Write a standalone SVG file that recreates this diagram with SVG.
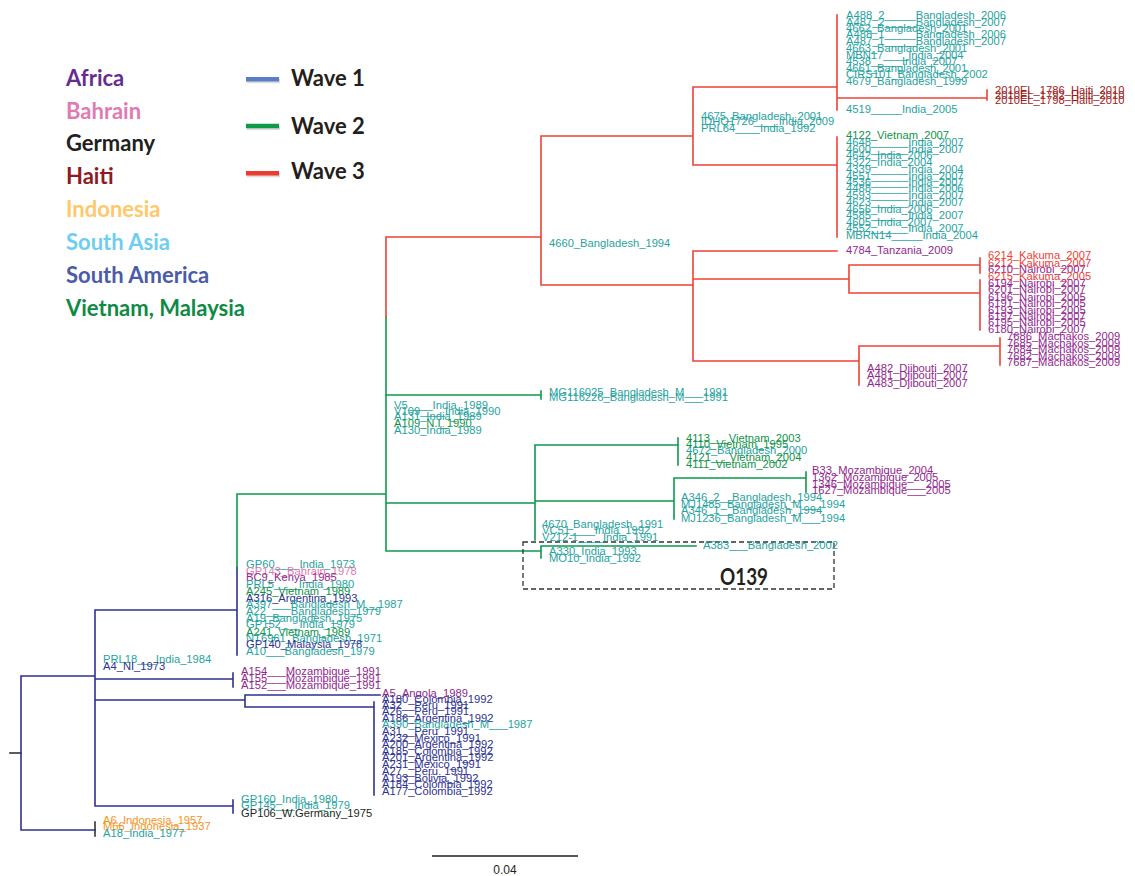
<svg xmlns="http://www.w3.org/2000/svg" width="1135" height="876" viewBox="0 0 1135 876">
<style>
.t{font-family:"Liberation Sans",Arial,Helvetica,sans-serif;font-size:11.2px}
.tl{fill:#1fa3a0}.pu{fill:#92278f}.nv{fill:#2e3192}.gr{fill:#0f9447}.pk{fill:#e07ab0}.ht{fill:#9e1b20}.rd{fill:#ef4136}.or{fill:#f7941d}.bk{fill:#231f20}
.lg{font-family:Lato,"Open Sans",sans-serif;font-weight:bold;font-size:22px}
.e{fill:none;stroke-width:1.6;stroke-linecap:square}
.b{stroke:#2e3192}.g{stroke:#0b9a4d}.r{stroke:#ef4136}.k{stroke:#333}
</style>
<rect width="1135" height="876" fill="#fff"/>
<g id="legend">
<text class="lg" x="66" y="85.7" fill="#662d91">Africa</text>
<text class="lg" x="66" y="118.6" fill="#e27ab2">Bahrain</text>
<text class="lg" x="66" y="151.4" fill="#231f20">Germany</text>
<text class="lg" x="66" y="184.3" fill="#8e1b1e">Haiti</text>
<text class="lg" x="66" y="217.2" fill="#fdc96b">Indonesia</text>
<text class="lg" x="66" y="250.1" fill="#6fcdf1">South Asia</text>
<text class="lg" x="66" y="283" fill="#4a5ca8">South America</text>
<text class="lg" x="66" y="315.9" fill="#0f8a45">Vietnam, Malaysia</text>
<g stroke-width="4.5">
<line x1="247" y1="81" x2="280" y2="81" stroke="#bbb" opacity="0.5"/>
<line x1="247" y1="127.7" x2="280" y2="127.7" stroke="#bbb" opacity="0.5"/>
<line x1="247" y1="175" x2="280" y2="175" stroke="#bbb" opacity="0.5"/>
<line x1="246" y1="79.3" x2="279" y2="79.3" stroke="#5a7dc5"/>
<line x1="246" y1="126" x2="279" y2="126" stroke="#0e9a48"/>
<line x1="246" y1="173.3" x2="279" y2="173.3" stroke="#ee3b2f"/>
</g>
<text class="lg" x="291" y="85.7" fill="#231f20">Wave 1</text>
<text class="lg" x="291" y="134" fill="#231f20">Wave 2</text>
<text class="lg" x="291" y="179" fill="#231f20">Wave 3</text>
</g>
<g id="connectors" class="e">
<path class="k" d="M10,753H21"/>
<path class="b" d="M21,676V830M21,676H95M21,830H95M95,610V806M95,610H237M237,567V655M95,679H233M233,673V687M95,700H245M245,695V707M245,695H380M245,707H374M374,702V795M95,806H233M233,800V813"/>
<path class="k" d="M95,822V836"/>
<path class="g" d="M237,494V567M237,494H386M386,317V551M386,395H541M541,391V399M386,503H535M535,445V540M535,445H678M678,438V465M535,501H674M674,478V519M674,478H806M806,472V492M386,551H541M541,546V558M541,546H696"/>
<path class="r" d="M386,237V317M386,237H541M541,136V285M541,136H693M693,87V165M693,87H837M837,15V110M837,98H987M987,90V100M693,165H837M837,137V237M541,285H693M693,251V361M693,251H837M693,279H849M849,265V293M849,265H980M980,258V273M849,293H980M980,280V330M693,361H859M859,346V385M859,346H1000M1000,338V365"/>
</g>
<g id="o139">
<rect x="523" y="542" width="311" height="47" fill="none" stroke="#333" stroke-width="1.3" stroke-dasharray="5,3"/>
<text x="720" y="585" font-family="Lato,'Open Sans',sans-serif" font-weight="bold" font-size="23" fill="#231f20" textLength="48" lengthAdjust="spacingAndGlyphs">O139</text>
</g>
<g id="clade-bangladesh-top" class="t tl">
<text x="846" y="19">A488_2_____Bangladesh_2006</text>
<text x="846" y="26">A487_2_____Bangladesh_2007</text>
<text x="846" y="32">4662_Bangladesh_2001</text>
<text x="846" y="38">A488_1_____Bangladesh_2006</text>
<text x="846" y="45">A487_1_____Bangladesh_2007</text>
<text x="846" y="51.7">4663_Bangladesh_2001</text>
<text x="846" y="59">MBN17____India_2004</text>
<text x="846" y="65">4538_____India_2007</text>
<text x="846" y="71.7">4661_Bangladesh_2001</text>
<text x="846" y="78.3">CIRS101_Bangladesh_2002</text>
<text x="846" y="85">4679_Bangladesh_1999</text>
<text x="846" y="113.3">4519_____India_2005</text>
</g>
<g id="clade-haiti" class="t ht">
<text x="995" y="94">2010EL_1786_Haiti_2010</text>
<text x="995" y="98.5">2010EL_1792_Haiti_2010</text>
<text x="995" y="103.5">2010EL_1798_Haiti_2010</text>
</g>
<g id="node-4675" class="t tl">
<text x="701" y="119.5">4675_Bangladesh_2001</text>
<text x="701" y="125">IDHQ1726____India_2009</text>
<text x="701" y="131.5">PRL64____India_1992</text>
</g>
<g id="clade-india" class="t tl">
<text class="t gr" x="846" y="139">4122_Vietnam_2007</text>
<text x="846" y="145.7">4648______India_2007</text>
<text x="846" y="152.5">4600______India_2007</text>
<text x="846" y="159">4642_India_2006</text>
<text x="846" y="165.7">4322_India_2004</text>
<text x="846" y="172.7">4339______India_2004</text>
<text x="846" y="179.5">4551______India_2007</text>
<text x="846" y="185.7">4536______India_2007</text>
<text x="846" y="192.3">4488______India_2006</text>
<text x="846" y="199.3">4593______India_2007</text>
<text x="846" y="206">4623______India_2007</text>
<text x="846" y="212.7">4656_India_2006</text>
<text x="846" y="219.3">4585______India_2007</text>
<text x="846" y="226">4605_India_2007</text>
<text x="846" y="232">4552______India_2007</text>
<text x="846" y="239.3">MBRN14_____India_2004</text>
</g>
<g id="node-4660" class="t tl"><text x="549" y="246.7">4660_Bangladesh_1994</text></g>
<g id="leaf-tanzania" class="t pu"><text x="846" y="254">4784_Tanzania_2009</text></g>
<g id="clade-kakuma" class="t pu">
<text class="t rd" x="988" y="259.3">6214_Kakuma_2007</text>
<text class="t rd" x="988" y="266.7">6212_Kakuma_2007</text>
<text x="988" y="273.3">6210_Nairobi_2007</text>
<text class="t rd" x="988" y="280">6215_Kakuma_2005</text>
</g>
<g id="clade-nairobi" class="t pu">
<text x="988" y="286.5">6194_Nairobi_2007</text>
<text x="988" y="293.3">6201_Nairobi_2007</text>
<text x="988" y="300.5">6196_Nairobi_2005</text>
<text x="988" y="306.7">6191_Nairobi_2005</text>
<text x="988" y="313.7">6193_Nairobi_2005</text>
<text x="988" y="320">6197_Nairobi_2007</text>
<text x="988" y="326">6195_Nairobi_2005</text>
<text x="988" y="332.7">6180_Nairobi_2007</text>
</g>
<g id="clade-machakos" class="t pu">
<text x="1007" y="340">7686_Machakos_2009</text>
<text x="1007" y="346.7">7685_Machakos_2009</text>
<text x="1007" y="353">7684_Machakos_2009</text>
<text x="1007" y="359.5">7682_Machakos_2009</text>
<text x="1007" y="366">7687_Machakos_2009</text>
</g>
<g id="node-djibouti" class="t pu">
<text x="867" y="371.7">A482_Djibouti_2007</text>
<text x="867" y="379.3">A481_Djibouti_2007</text>
<text x="867" y="386.7">A483_Djibouti_2007</text>
</g>
<g id="clade-mg" class="t tl">
<text x="549" y="395.5">MG116025_Bangladesh_M___1991</text>
<text x="549" y="400.7">MG116226_Bangladesh_M___1991</text>
</g>
<g id="node-v5" class="t tl">
<text x="394" y="408.5">V5____India_1989</text>
<text x="394" y="414.5">V109____India_1990</text>
<text x="394" y="419.5">A131_India_1989</text>
<text class="t gr" x="394" y="426.5">A109_N.I_1990</text>
<text x="394" y="433.5">A130_India_1989</text>
</g>
<g id="clade-vietnam" class="t gr">
<text x="686" y="441.7">4113___Vietnam_2003</text>
<text x="686" y="447.7">4110_Vietnam_1995</text>
<text class="t tl" x="686" y="454.3">4672_Bangladesh_2000</text>
<text x="686" y="461">4121___Vietnam_2004</text>
<text x="686" y="467.7">4111_Vietnam_2002</text>
</g>
<g id="clade-mozambique" class="t pu">
<text x="812" y="474.3">B33_Mozambique_2004</text>
<text x="812" y="481">1362_Mozambique_2005</text>
<text x="812" y="487.7">1346_Mozambique___2005</text>
<text x="812" y="494.3">1627_Mozambique___2005</text>
</g>
<g id="node-a346" class="t tl">
<text x="681" y="501">A346_2__Bangladesh_1994</text>
<text x="681" y="507.7">MJ1485_Bangladesh_M___1994</text>
<text x="681" y="514.3">A346_1__Bangladesh_1994</text>
<text x="681" y="521.7">MJ1236_Bangladesh_M___1994</text>
</g>
<g id="node-4670" class="t tl">
<text x="542" y="528.3">4670_Bangladesh_1991</text>
<text x="542" y="534.3">VC51____India_1992</text>
<text x="542" y="541">V212-1____India_1991</text>
</g>
<g id="node-o139" class="t tl">
<text x="703" y="549">A383___Bangladesh_2002</text>
<text x="549" y="555">A330_India_1993</text>
<text x="549" y="561.7">MO10_India_1992</text>
</g>
<g id="node-gp60" class="t tl">
<text x="246" y="568.3">GP60____India_1973</text>
<text class="t pk" x="246" y="574.5">GP143_Bahrain_1978</text>
<text class="t pu" x="246" y="581">BC9_Kenya_1985</text>
<text x="246" y="588.3">PRL5____India_1980</text>
<text class="t gr" x="246" y="594.5">A245_Vietnam_1989</text>
<text class="t nv" x="246" y="601.7">A316_Argentina_1993</text>
<text x="246" y="608.3">A397___Bangladesh_M__1987</text>
<text x="246" y="615">A22____Bangladesh_1979</text>
<text x="246" y="621.7">A19_Bangladesh_1975</text>
<text x="246" y="628.3">GP152___India_1979</text>
<text class="t gr" x="246" y="635.5">A241_Vietnam_1989</text>
<text x="246" y="641.7">NT6961_Bangladesh_1971</text>
<text class="t nv" x="246" y="648.3">GP140_Malaysia_1978</text>
<text x="246" y="655">A10___Bangladesh_1979</text>
</g>
<g id="node-prl18" class="t">
<text class="t tl" x="103" y="663.3">PRL18___India_1984</text>
<text class="t nv" x="103" y="670">A4_NI_1973</text>
</g>
<g id="clade-a154" class="t pu">
<text x="241" y="675">A154___Mozambique_1991</text>
<text x="241" y="681.7">A155___Mozambique_1991</text>
<text x="241" y="689">A152___Mozambique_1991</text>
</g>
<g id="leaf-angola" class="t pu"><text x="382" y="696.7">A5_Angola_1989</text></g>
<g id="clade-south-america" class="t nv">
<text x="382" y="702.7">A180_Colombia_1992</text>
<text x="382" y="709.3">A32__Peru_1991</text>
<text x="382" y="715">A26__Peru_1991</text>
<text x="382" y="721.7">A186_Argentina_1992</text>
<text class="t tl" x="382" y="728.3">A390_Bangladesh_M___1987</text>
<text x="382" y="735">A31__Peru_1991</text>
<text x="382" y="741.7">A232_Mexico_1991</text>
<text x="382" y="748.3">A200_Argentina_1992</text>
<text x="382" y="755">A185_Colombia_1992</text>
<text x="382" y="761">A201_Argentina_1992</text>
<text x="382" y="768.3">A231_Mexico_1991</text>
<text x="382" y="775">A27__Peru_1991</text>
<text x="382" y="781.7">A193_Bolivia_1992</text>
<text x="382" y="788.3">A184_Colombia_1992</text>
<text x="382" y="795">A177_Colombia_1992</text>
</g>
<g id="clade-gp160" class="t tl">
<text x="241" y="803.3">GP160_India_1980</text>
<text x="241" y="809.3">GP145___India_1979</text>
<text class="t bk" x="241" y="816.7">GP106_W.Germany_1975</text>
</g>
<g id="clade-indonesia" class="t or">
<text x="103" y="824.3">A6_Indonesia_1957</text>
<text x="103" y="830">M66_Indonesia_1937</text>
<text class="t tl" x="103" y="836.7">A18_India_1977</text>
</g>
<g id="scale-bar">
<line x1="432" y1="856" x2="578" y2="856" stroke="#231f20" stroke-width="1.3"/>
<text x="505" y="874" text-anchor="middle" font-family="'Liberation Sans',Arial,sans-serif" font-size="12" fill="#231f20">0.04</text>
</g>
</svg>
